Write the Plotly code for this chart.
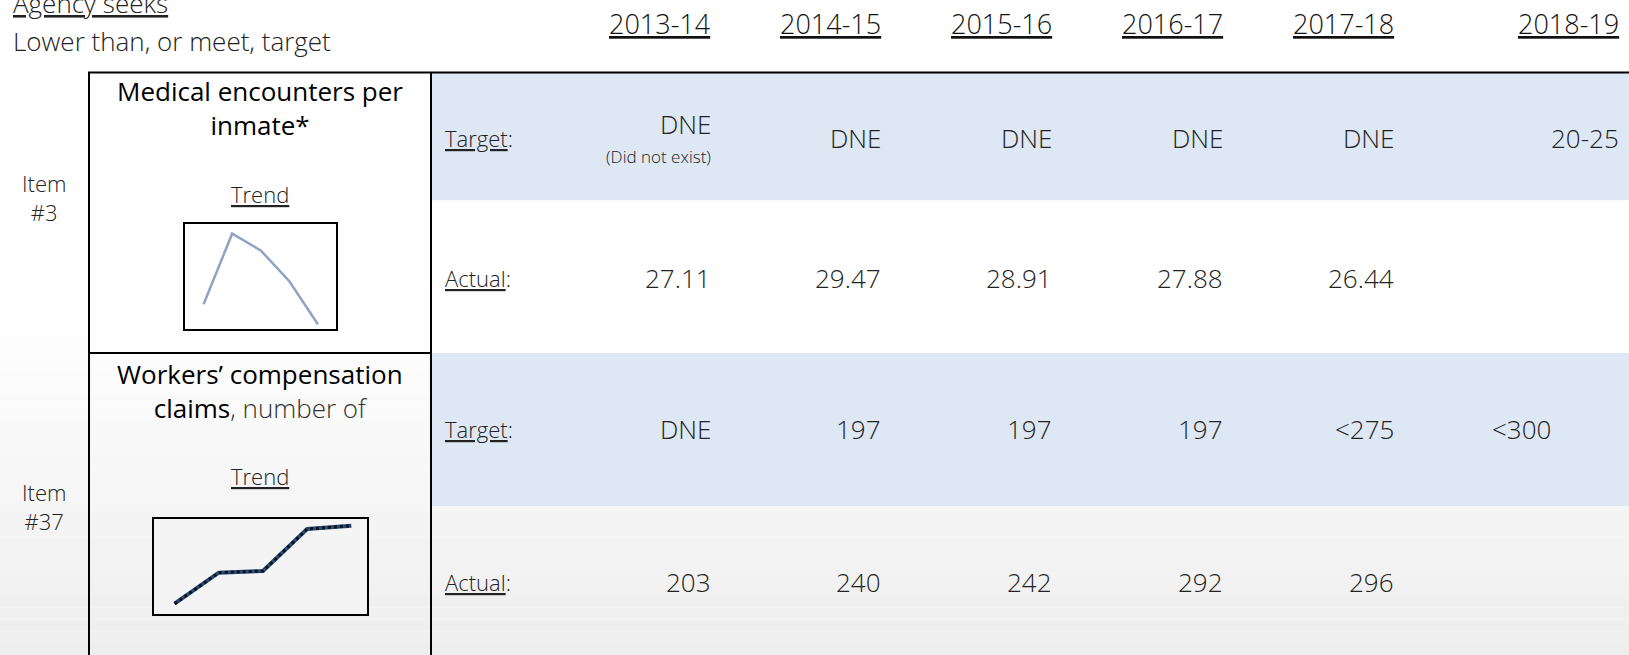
import plotly.graph_objects as go

# ---------------- data ----------------
years = ["2013-14", "2014-15", "2015-16", "2016-17", "2017-18", "2018-19"]
med_target = ["DNE", "DNE", "DNE", "DNE", "DNE", "20-25"]
med_actual = [27.11, 29.47, 28.91, 27.88, 26.44]
wc_target = ["DNE", "197", "197", "197", "<275", "<300"]
wc_actual = [203, 240, 242, 292, 296]
trend_x = [0, 1, 2, 3, 4]

W, H = 1629, 655
FONT = "Open Sans"
TXT = "#222222"


def px(x):
    return x / W


def py(y):
    return 1 - y / H


fig = go.Figure()

shapes = []
# background gradient (bottom part of slide)
n_bands = 30
y0, y1 = 300, 655
for i in range(n_bands):
    t = i / (n_bands - 1)
    c = int(round(255 - t * 17))
    shapes.append(dict(type="rect", xref="paper", yref="paper",
                       x0=0, x1=1, y0=py(y0 + (y1 - y0) * (i + 1) / n_bands),
                       y1=py(y0 + (y1 - y0) * i / n_bands),
                       fillcolor=f"rgb({c},{c},{c})", line_width=0, layer="below"))

BLUE = "#DDE8F4"
shapes.append(dict(type="rect", xref="paper", yref="paper", x0=px(432), x1=1,
                   y0=py(200.5), y1=py(73), fillcolor=BLUE, line_width=0, layer="below"))
shapes.append(dict(type="rect", xref="paper", yref="paper", x0=px(432), x1=1,
                   y0=py(353), y1=py(200.5), fillcolor="#FFFFFF", line_width=0, layer="below"))
shapes.append(dict(type="rect", xref="paper", yref="paper", x0=px(432), x1=1,
                   y0=py(506), y1=py(353), fillcolor=BLUE, line_width=0, layer="below"))
shapes.append(dict(type="rect", xref="paper", yref="paper", x0=px(89), x1=px(431),
                   y0=py(353), y1=py(73), fillcolor="#FFFFFF", line_width=0, layer="below"))
# mini chart backgrounds
shapes.append(dict(type="rect", xref="paper", yref="paper", x0=px(185), x1=px(335.6),
                   y0=py(329.4), y1=py(224.4), fillcolor="white", line_width=0, layer="below"))
shapes.append(dict(type="rect", xref="paper", yref="paper", x0=px(153.8), x1=px(366.8),
                   y0=py(614), y1=py(518.5), fillcolor="#F4F4F4", line_width=0, layer="below"))

# table lines
LINE = dict(color="black", width=2)
shapes.append(dict(type="line", xref="paper", yref="paper", x0=px(88), x1=1,
                   y0=py(72.5), y1=py(72.5), line=LINE))
shapes.append(dict(type="line", xref="paper", yref="paper", x0=px(89), x1=px(89),
                   y0=0, y1=py(72.5), line=LINE))
shapes.append(dict(type="line", xref="paper", yref="paper", x0=px(431), x1=px(431),
                   y0=0, y1=py(72.5), line=LINE))
shapes.append(dict(type="line", xref="paper", yref="paper", x0=px(89), x1=px(431),
                   y0=py(353), y1=py(353), line=LINE))

ann = []


def text(x, y, s, size=26, color=TXT, xanchor="center", weight=None, align=None):
    f = dict(family=FONT, size=size, color=color)
    if weight:
        f["weight"] = weight
    a = dict(x=px(x), y=py(y), xref="paper", yref="paper", text=s,
             showarrow=False, xanchor=xanchor, yanchor="middle", font=f)
    if align:
        a["align"] = align
    ann.append(a)


# header texts
text(11, 3, "<u>Agency seeks</u>", xanchor="left", weight=300)
text(11, 40.5, "Lower than, or meet, target", xanchor="left", weight=300)

col_right = [713, 883, 1053.5, 1225, 1396, 1621]
for yr, xr in zip(years, col_right):
    text(xr, 23, f"<u>{yr}</u>", size=27, color="#111111", xanchor="right", weight=300)

# item labels
text(43.5, 198, "Item<br>#3", size=22, weight=300)
text(43.5, 506, "Item<br>#37", size=22, weight=300)

# metric titles
text(260, 108, "Medical encounters per<br>inmate*", size=26, color="black")
text(260, 194, "<u>Trend</u>", size=22, weight=300)
text(260, 391, "Workers’ compensation<br>claims<span style='color:#333333;font-weight:300'>"
     ", number of</span>", size=26, color="black")
text(260, 476, "<u>Trend</u>", size=22, weight=300)

# row labels
for yy, lab in [(138, "Target"), (278, "Actual"), (429, "Target"), (582, "Actual")]:
    text(443, yy, f"<u>{lab}</u>:", size=22, xanchor="left", weight=300)

# row 1 values
for i, v in enumerate(med_target):
    if i == 0:
        text(col_right[i], 124, v, size=26, xanchor="right", weight=300)
        text(col_right[i], 157, "(Did not exist)", size=17, xanchor="right", weight=300)
    else:
        text(col_right[i], 138, v, size=26, xanchor="right", weight=300)
for i, v in enumerate(med_actual):
    text(col_right[i], 278, f"{v:.2f}", size=26, xanchor="right", weight=300)

# row 2 values
for i, v in enumerate(wc_target):
    xr = col_right[i] if i < 5 else 1553
    text(xr, 429, v, size=26, xanchor="right", weight=300)
for i, v in enumerate(wc_actual):
    text(col_right[i], 582, str(v), size=26, xanchor="right", weight=300)

# mini trend charts
fig.add_trace(go.Scatter(x=trend_x, y=med_actual, mode="lines",
                         line=dict(color="#8EA4C2", width=2.5),
                         xaxis="x", yaxis="y", showlegend=False, hoverinfo="skip"))
fig.add_trace(go.Scatter(x=trend_x, y=wc_actual, mode="lines",
                         line=dict(color="#2A4A72", width=4),
                         xaxis="x2", yaxis="y2", showlegend=False, hoverinfo="skip"))
fig.add_trace(go.Scatter(x=trend_x, y=wc_actual, mode="lines",
                         line=dict(color="#0D1420", width=3, dash="dot"),
                         xaxis="x2", yaxis="y2", showlegend=False, hoverinfo="skip"))

box_axis = dict(showgrid=False, zeroline=False, showticklabels=False, ticks="",
                showline=True, mirror=True, linecolor="black", linewidth=2, fixedrange=True)

fig.update_layout(
    width=W, height=H,
    margin=dict(l=0, r=0, t=0, b=0),
    paper_bgcolor="white",
    plot_bgcolor="rgba(0,0,0,0)",
    shapes=shapes,
    annotations=ann,
    xaxis=dict(domain=[px(185), px(335.6)], range=[-0.65, 4.62], **box_axis),
    yaxis=dict(domain=[py(329.4), py(224.4)], range=[26.27, 29.78], **box_axis),
    xaxis2=dict(domain=[px(153.8), px(366.8)], range=[-0.47, 4.35], anchor="y2", **box_axis),
    yaxis2=dict(domain=[py(614), py(518.5)], range=[190.7, 304.6], anchor="x2", **box_axis),
)

fig.write_html("out.html", config={"displayModeBar": False},
               post_script="document.body.style.margin='0';document.body.style.overflow='hidden';")
